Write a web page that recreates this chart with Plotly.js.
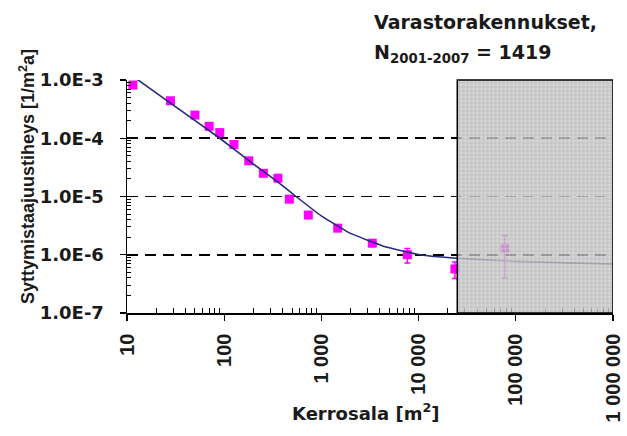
<!DOCTYPE html>
<html>
<head>
<meta charset="utf-8">
<script src="https://cdn.plot.ly/plotly-3.0.1.min.js"></script>
<style>
html,body{margin:0;padding:0;background:#fff;}
#chart{width:627px;height:436px;}
</style>
</head>
<body>
<div id="chart"></div>
<script>
// Observed fire frequency density (points)
const areaX = [11.5, 28, 50, 70, 90, 126, 179, 253, 357, 468, 733, 1472, 3340, 7660, 23650];
const freqY = [8.2e-4, 4.4e-4, 2.5e-4, 1.6e-4, 1.25e-4, 7.8e-5, 4.1e-5, 2.5e-5, 2.06e-5, 9.0e-6, 4.8e-6, 2.86e-6, 1.58e-6, 1.0e-6, 5.7e-7];
const freqErr = [6e-5, 4e-5, 2.5e-5, 1.6e-5, 1.3e-5, 8e-6, 4e-6, 2.5e-6, 2.2e-6, 1e-6, 5e-7, 3e-7, 2e-7, 2.8e-7, 1.8e-7];

// Point inside the shaded (uncertain) region
const greyX = [77400];
const greyY = [1.3e-6];
const greyErrPlus = [8.3e-7];
const greyErrMinus = [9.0e-7];

// Fitted curve
const fitX = [12, 28, 90, 200, 360, 548, 1006, 1970, 3340, 4340, 7000, 10300, 24500, 100000, 1000000];
const fitY = [1.1e-3, 4.0e-4, 1.0e-4, 3.6e-5, 1.75e-5, 1.0e-5, 4.6e-6, 2.35e-6, 1.65e-6, 1.4e-6, 1.15e-6, 1.0e-6, 8.7e-7, 7.7e-7, 6.9e-7];

// Axis ticks
const xTickVals = [10, 100, 1000, 10000, 100000, 1000000];
const xTickText = ["10", "100", "1 000", "10 000", "100 000", "1 000 000"];
const yTickVals = [1e-7, 1e-6, 1e-5, 1e-4, 1e-3];
const yTickText = ["1.0E-7", "1.0E-6", "1.0E-5", "1.0E-4", "1.0E-3"];

const shadeStart = 25000;

function minorTicks(lo, hi) {
  const out = [];
  for (let e = lo; e < hi; e++) for (let m = 2; m <= 9; m++) out.push(m * Math.pow(10, e));
  return out;
}

const WIDE = '"DejaVu Sans", Verdana, sans-serif';
const NARROW = 'Arial, "Liberation Sans", sans-serif';
const TXT = '#1a1a1a';

const traces = [
  {
    x: areaX, y: freqY, type: 'scatter', mode: 'markers',
    marker: {symbol: 'square', size: 9, color: '#ff00ff'},
    error_y: {type: 'data', array: freqErr, visible: true, color: '#ff00ff', thickness: 1.5, width: 3},
    showlegend: false, hoverinfo: 'skip'
  },
  {
    x: greyX, y: greyY, type: 'scatter', mode: 'markers',
    marker: {symbol: 'square', size: 9, color: '#ff00ff'},
    error_y: {type: 'data', symmetric: false, array: greyErrPlus, arrayminus: greyErrMinus, visible: true, color: '#ff00ff', thickness: 1.5, width: 3},
    showlegend: false, hoverinfo: 'skip'
  },
  {
    x: fitX, y: fitY, type: 'scatter', mode: 'lines', line: {color: '#27287e', width: 1.6, shape: 'spline', smoothing: 0.3},
    showlegend: false, hoverinfo: 'skip'
  }
];

// subtle texture inside the shaded box (paper coordinates)
const bx0 = (Math.log10(shadeStart) - 1) / 5;
let tex = '';
for (let px = bx0 + 4 / 486; px < 1; px += 4 / 486) tex += `M${px.toFixed(5)},0 L${px.toFixed(5)},1 `;
for (let py = 4 / 233; py < 1; py += 4 / 233) tex += `M${bx0.toFixed(5)},${py.toFixed(5)} L1,${py.toFixed(5)} `;

const layout = {
  width: 627, height: 436,
  margin: {l: 127, r: 14, t: 80, b: 123},
  paper_bgcolor: '#fff', plot_bgcolor: '#fff',
  font: {family: NARROW, color: TXT},
  xaxis: {
    type: 'log', range: [1, 6],
    tickmode: 'array', tickvals: xTickVals, ticktext: xTickText,
    tickangle: -90, tickfont: {size: 20, weight: 'bold', family: NARROW, color: TXT},
    ticks: 'outside', ticklen: 6, tickwidth: 1.3, tickcolor: '#000', ticklabelstandoff: 5,
    minor: {tickmode: 'array', tickvals: minorTicks(1, 6), ticks: 'inside', ticklen: 5, tickwidth: 1, tickcolor: '#000', showgrid: false},
    showline: true, linecolor: '#000', linewidth: 1.5,
    showgrid: false, zeroline: false, automargin: false
  },
  yaxis: {
    type: 'log', range: [-7, -3],
    tickmode: 'array', tickvals: yTickVals, ticktext: yTickText,
    tickfont: {size: 18, weight: 'bold', family: WIDE, color: TXT},
    ticks: 'outside', ticklen: 6, tickwidth: 1.3, tickcolor: '#000', ticklabelstandoff: 12,
    minor: {tickmode: 'array', tickvals: minorTicks(-7, -3), ticks: 'inside', ticklen: 4, tickwidth: 1, tickcolor: '#000', showgrid: false},
    showline: true, linecolor: '#000', linewidth: 1.5,
    showgrid: true, gridcolor: '#000', gridwidth: 1.6, griddash: '11px,7px',
    zeroline: false, automargin: false
  },
  shapes: [
    {
      type: 'rect', layer: 'above', xref: 'x', yref: 'y domain',
      x0: shadeStart, x1: 1000000, y0: 0, y1: 1,
      fillcolor: 'rgba(184,184,184,0.8)', line: {width: 0}
    },
    {
      type: 'path', layer: 'above', xref: 'paper', yref: 'paper', path: tex,
      line: {color: 'rgba(255,255,255,0.28)', width: 1}
    },
    {
      type: 'rect', layer: 'above', xref: 'x', yref: 'y domain',
      x0: shadeStart, x1: 1000000, y0: 0, y1: 1,
      fillcolor: 'rgba(0,0,0,0)', line: {color: '#000', width: 1.5}
    }
  ],
  annotations: [
    {xref: 'paper', yref: 'paper', x: 0.504, y: 1.248, xanchor: 'left', yanchor: 'middle', showarrow: false,
     text: 'Varastorakennukset,', font: {size: 19, weight: 'bold', family: WIDE, color: TXT}},
    {xref: 'paper', yref: 'paper', x: 0.504, y: 1.115, xanchor: 'left', yanchor: 'middle', showarrow: false,
     text: 'N<sub>2001-2007</sub> = 1419', font: {size: 19, weight: 'bold', family: WIDE, color: TXT}},
    {xref: 'paper', yref: 'paper', x: 0.49, y: -0.425, xanchor: 'center', yanchor: 'middle', showarrow: false,
     text: 'Kerrosala [m<sup>2</sup>]', font: {size: 18, weight: 'bold', family: WIDE, color: TXT}},
    {xref: 'paper', yref: 'paper', x: -0.205, y: 0.585, xanchor: 'center', yanchor: 'middle', showarrow: false, textangle: -90,
     text: 'Syttymistaajuustiheys [1/m<sup>2</sup>a]', font: {size: 18, weight: 'bold', family: NARROW, color: TXT}}
  ]
};

Plotly.newPlot('chart', traces, layout, {displayModeBar: false, staticPlot: true});
</script>
</body>
</html>
